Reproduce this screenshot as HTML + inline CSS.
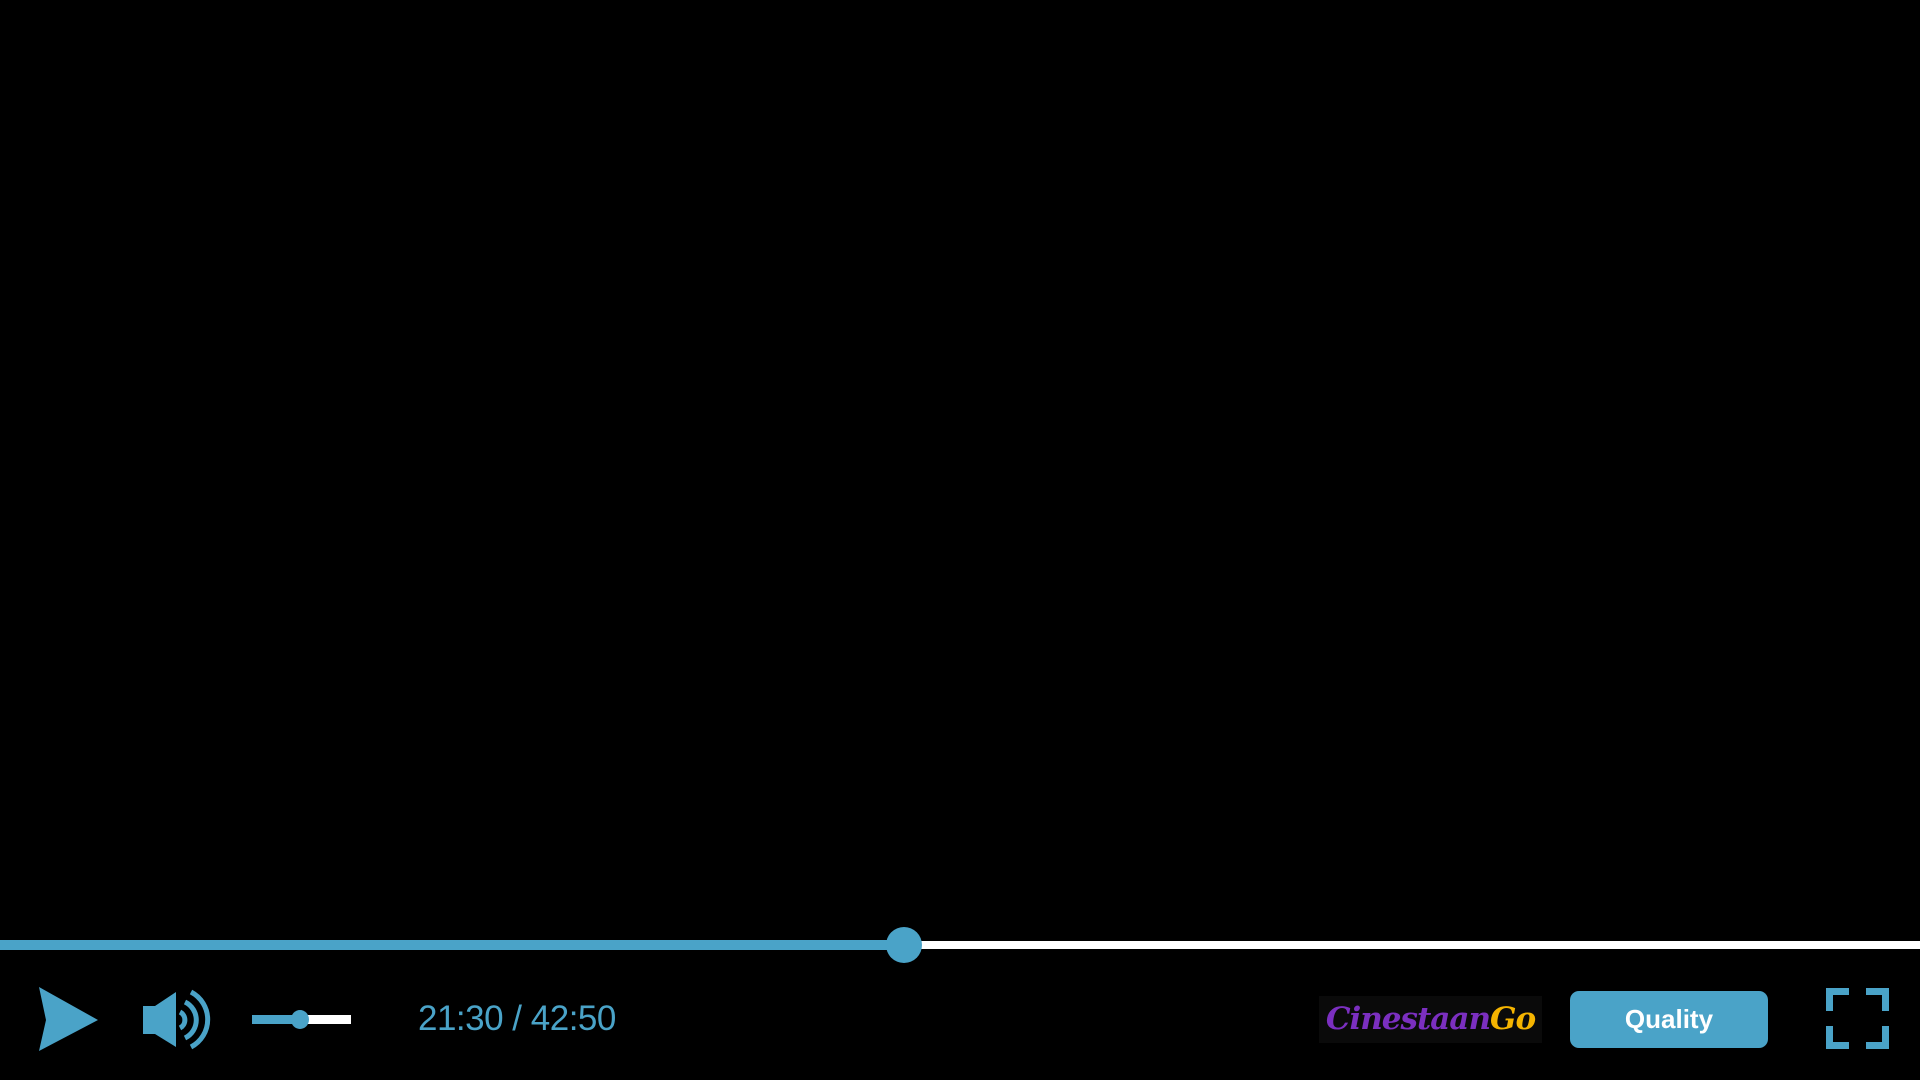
<!DOCTYPE html>
<html><head><meta charset="utf-8"><style>
html,body{margin:0;padding:0;background:#000;width:1920px;height:1080px;overflow:hidden;font-family:"Liberation Sans",sans-serif}
.abs{position:absolute}
</style></head><body>
<div class="abs" style="left:0;top:0;width:1920px;height:930px;background:#000"></div>
<div class="abs" style="left:0;top:940px;width:904px;height:10px;background:#4aa3c8"></div>
<div class="abs" style="left:904px;top:941px;width:1016px;height:8px;background:#fff"></div>
<div class="abs" style="left:886px;top:927px;width:36px;height:36px;border-radius:50%;background:#4aa3c8"></div>
<svg class="abs" style="left:0;top:960px" width="120" height="110"><polygon points="39,27 98,60 39,91 46,60" fill="#4aa3c8"/></svg>
<svg class="abs" style="left:130px;top:980px" width="90" height="80"><polygon points="13,26 25,26 46,12 46,67 25,54 13,54" fill="#4aa3c8"/><path d="M50,32 A9,9 0 0 1 50,48" stroke="#4aa3c8" stroke-width="5" fill="none"/><path d="M55,22 A20,20 0 0 1 55,58" stroke="#4aa3c8" stroke-width="5" fill="none"/><path d="M61,12 A31,31 0 0 1 61,67" stroke="#4aa3c8" stroke-width="5" fill="none"/></svg>
<div class="abs" style="left:252px;top:1015px;width:99px;height:9px;background:#fff"></div>
<div class="abs" style="left:252px;top:1015px;width:48px;height:9px;background:#4aa3c8"></div>
<div class="abs" style="left:291px;top:1010px;width:18px;height:19px;border-radius:50%;background:#4aa3c8"></div>
<div class="abs" style="left:418px;top:999px;font-size:35px;color:#4aa3c8;white-space:nowrap;line-height:40px;letter-spacing:-0.5px">21:30 / 42:50</div>
<div class="abs" style="left:1319px;top:996px;width:223px;height:47px;background:#0a0a0a;font-family:'DejaVu Serif',serif;font-style:italic;font-weight:bold;font-size:31px;line-height:47px;text-align:center;white-space:nowrap;letter-spacing:-1px"><span style="color:#7b2fc0">Cinestaan</span><span style="color:#f5b400">Go</span></div>
<div class="abs" style="left:1570px;top:991px;width:198px;height:57px;border-radius:9px;background:#4aa3c8;color:#fff;font-weight:bold;font-size:26px;line-height:57px;text-align:center">Quality</div>
<svg class="abs" style="left:1826px;top:988px" width="64" height="62"><g fill="none" stroke="#4aa3c8" stroke-width="7"><polyline points="3.5,23 3.5,3.5 23,3.5"/><polyline points="40,3.5 59.5,3.5 59.5,23"/><polyline points="3.5,38 3.5,57.5 23,57.5"/><polyline points="40,57.5 59.5,57.5 59.5,38"/></g></svg>
</body></html>
